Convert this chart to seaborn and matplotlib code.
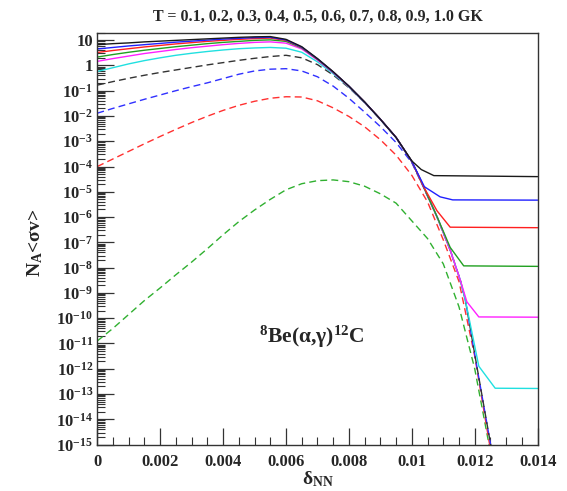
import numpy as np
import pandas as pd
import matplotlib
matplotlib.use('Agg')
import matplotlib.pyplot as plt
import seaborn as sns
from matplotlib.ticker import FixedLocator, MultipleLocator, FuncFormatter, NullFormatter

# temperatures (GK), line colours and line kind
temps = ['1.0', '0.9', '0.8', '0.7', '0.6', '0.5', '0.4', '0.3', '0.2', '0.1']
colors = ['#1a1a1a', '#2020ff', '#ff2020', '#20a020', '#ff20ff', '#20e0e0',
          '#333333', '#3030ff', '#ff3030', '#30b030']
dashed = [False, False, False, False, False, False, True, True, True, True]

# shared grid for the body of each curve (delta_NN)
x_body = [0.0, 0.0005, 0.001, 0.0015, 0.002, 0.0025, 0.003, 0.0035, 0.004, 0.0045,
          0.005, 0.0055, 0.006, 0.0065, 0.007, 0.0075, 0.008, 0.0085, 0.009, 0.0095]

# log10(N_A<sigma v>) on x_body
log_t10 = [0.82, 0.86, 0.89, 0.93, 0.96, 0.99, 1.02, 1.05, 1.08, 1.11, 1.13, 1.14, 1.03, 0.74, 0.27, -0.25, -0.82, -1.45, -2.13, -2.85]
log_t09 = [0.65, 0.71, 0.77, 0.82, 0.87, 0.92, 0.96, 1.00, 1.04, 1.07, 1.10, 1.11, 1.01, 0.72, 0.26, -0.26, -0.82, -1.45, -2.13, -2.85]
log_t08 = [0.51, 0.59, 0.66, 0.73, 0.79, 0.85, 0.90, 0.95, 0.99, 1.03, 1.06, 1.08, 0.99, 0.71, 0.25, -0.26, -0.83, -1.45, -2.13, -2.85]
log_t07 = [0.33, 0.43, 0.52, 0.60, 0.67, 0.74, 0.80, 0.86, 0.91, 0.95, 0.99, 1.01, 0.95, 0.69, 0.24, -0.27, -0.83, -1.45, -2.13, -2.85]
log_t06 = [0.16, 0.27, 0.37, 0.47, 0.55, 0.63, 0.70, 0.76, 0.82, 0.87, 0.91, 0.93, 0.88, 0.65, 0.21, -0.29, -0.84, -1.46, -2.13, -2.85]
log_t05 = [-0.24, -0.09, 0.06, 0.19, 0.30, 0.40, 0.48, 0.55, 0.61, 0.66, 0.69, 0.71, 0.68, 0.52, 0.14, -0.33, -0.86, -1.47, -2.14, -2.86]
log_t04 = [-0.78, -0.64, -0.51, -0.39, -0.28, -0.18, -0.08, 0.02, 0.11, 0.20, 0.28, 0.35, 0.40, 0.30, 0.03, -0.38, -0.88, -1.47, -2.13, -2.86]
log_t03 = [-1.89, -1.70, -1.52, -1.34, -1.17, -1.00, -0.84, -0.69, -0.52, -0.35, -0.22, -0.15, -0.13, -0.22, -0.45, -0.82, -1.30, -1.85, -2.42, -3.05]
log_t02 = [-4.00, -3.70, -3.40, -3.10, -2.81, -2.53, -2.26, -2.01, -1.78, -1.58, -1.42, -1.30, -1.24, -1.25, -1.40, -1.68, -2.02, -2.43, -2.94, -3.55]
log_t01 = [-10.9, -10.4, -9.85, -9.3, -8.8, -8.28, -7.78, -7.25, -6.7, -6.18, -5.72, -5.3, -4.92, -4.68, -4.56, -4.53, -4.6, -4.78, -5.08, -5.45]

# tails past x = 0.0095 (plateaus for the hotter curves)
tx_t10 = [0.0100, 0.0103, 0.0107, 0.0140]
ty_t10 = [-3.78, -4.12, -4.36, -4.40]
tx_t09 = [0.0100, 0.0104, 0.0109, 0.0113, 0.0140]
ty_t09 = [-3.80, -4.80, -5.20, -5.32, -5.33]
tx_t08 = [0.0100, 0.01037, 0.0108, 0.01122, 0.0140]
ty_t08 = [-3.80, -4.79, -5.75, -6.40, -6.42]
tx_t07 = [0.0100, 0.01037, 0.0108, 0.01122, 0.01165, 0.0140]
ty_t07 = [-3.80, -4.79, -5.98, -7.20, -7.93, -7.95]
tx_t06 = [0.0100, 0.01037, 0.0108, 0.01122, 0.01154, 0.01175, 0.01213, 0.0140]
ty_t06 = [-3.80, -4.79, -5.98, -7.30, -8.49, -9.35, -9.95, -9.96]
tx_t05 = [0.0100, 0.01037, 0.0108, 0.01122, 0.01154, 0.0117, 0.01213, 0.01265, 0.0140]
ty_t05 = [-3.80, -4.79, -5.98, -7.30, -8.49, -9.27, -11.9, -12.77, -12.78]
tx_t04 = [0.0100, 0.01037, 0.0108, 0.01122, 0.01154, 0.0117, 0.01207, 0.0125, 0.0128]
ty_t04 = [-3.80, -4.79, -5.98, -7.30, -8.49, -9.27, -11.92, -14.95, -17.0]
tx_t03 = [0.0100, 0.01037, 0.0108, 0.01122, 0.01154, 0.0117, 0.01207, 0.0125, 0.0128]
ty_t03 = [-3.85, -4.82, -6.00, -7.32, -8.50, -9.28, -11.93, -14.96, -17.0]
tx_t02 = [0.0100, 0.0105, 0.0110, 0.0115, 0.0120, 0.0125, 0.0128]
ty_t02 = [-4.35, -5.40, -6.90, -8.55, -11.5, -15.2, -17.5]
tx_t01 = [0.0100, 0.0105, 0.0110, 0.0115, 0.0120, 0.0125, 0.0128]
ty_t01 = [-6.15, -6.85, -7.85, -9.55, -12.0, -15.3, -17.5]

bodies = [log_t10, log_t09, log_t08, log_t07, log_t06, log_t05, log_t04, log_t03, log_t02, log_t01]
tails_x = [tx_t10, tx_t09, tx_t08, tx_t07, tx_t06, tx_t05, tx_t04, tx_t03, tx_t02, tx_t01]
tails_y = [ty_t10, ty_t09, ty_t08, ty_t07, ty_t06, ty_t05, ty_t04, ty_t03, ty_t02, ty_t01]

frames = []
for T, body, tx, ty in zip(temps, bodies, tails_x, tails_y):
    frames.append(pd.DataFrame({'delta': x_body + tx, 'logN': body + ty, 'T': T}))
df = pd.concat(frames, ignore_index=True)
df['N'] = 10.0 ** df['logN']

sns.set_style('white')
plt.rcParams['font.family'] = ['Liberation Serif', 'DejaVu Serif']
plt.rcParams['font.weight'] = 'bold'
plt.rcParams['mathtext.fontset'] = 'custom'
plt.rcParams['mathtext.rm'] = 'Liberation Serif:bold'
plt.rcParams['mathtext.bf'] = 'Liberation Serif:bold'
plt.rcParams['mathtext.it'] = 'Liberation Serif:bold:italic'

fig = plt.figure(figsize=(5.67, 4.91), dpi=100)
ax = fig.add_axes([0.1716, 0.0945, 0.7766, 0.8393])

# draw coolest first so the solid black ends on top
order = temps[::-1]
sns.lineplot(data=df, x='delta', y='N', hue='T', style='T',
             hue_order=order, style_order=order,
             palette=dict(zip(temps, colors)),
             dashes={T: ((5, 3) if d else '') for T, d in zip(temps, dashed)},
             estimator=None, sort=False, legend=False, linewidth=1.0, ax=ax)

ax.set_yscale('log')
ax.set_xlim(0, 0.014)
ax.set_ylim(1e-15, 20)

# y ticks like ROOT
decades = list(range(-15, 2))
ax.yaxis.set_major_locator(FixedLocator([10.0 ** n for n in decades]))
ylabels = []
for n in decades:
    if n == 0:
        ylabels.append('1')
    elif n == 1:
        ylabels.append('10')
    else:
        ylabels.append(r'$\mathbf{10^{%d}}$' % n)
ax.set_yticklabels(ylabels)
ax.yaxis.set_minor_locator(FixedLocator([m * 10.0 ** n for n in decades for m in range(2, 10)]))
ax.yaxis.set_minor_formatter(NullFormatter())

ax.xaxis.set_major_locator(MultipleLocator(0.002))
ax.xaxis.set_minor_locator(MultipleLocator(0.0005))
ax.xaxis.set_major_formatter(FuncFormatter(lambda v, p: '%g' % round(v, 4)))

ax.tick_params(axis='both', which='major', direction='in', length=12, width=0.9,
               labelsize=12, left=True, bottom=True, top=False, right=False, color='#333333')
ax.tick_params(axis='both', which='minor', direction='in', length=6, width=0.8,
               left=True, bottom=True, top=False, right=False, color='#333333')
ax.tick_params(axis='x', which='major', pad=7)
ax.tick_params(axis='y', which='major', pad=3)
for lab in ax.get_xticklabels() + ax.get_yticklabels():
    lab.set_fontweight('bold')

for sp in ax.spines.values():
    sp.set_color('#333333')
    sp.set_linewidth(1.0)

ax.set_xlabel('')
ax.set_ylabel('')

fig.text(0.56, 0.966, 'T = 0.1, 0.2, 0.3, 0.4, 0.5, 0.6, 0.7, 0.8, 0.9, 1.0 GK',
         ha='center', va='center', fontsize=11.5, fontweight='bold')
fig.text(0.062, 1 - 243 / 491, r'N$_{\mathbf{A}}$<σv>', rotation=90,
         ha='center', va='center', fontsize=14, fontweight='bold')
fig.text(0.56, 1 - 479 / 491, r'δ$_{\mathbf{NN}}$', ha='center', va='center',
         fontsize=14, fontweight='bold')
ax.text(0.488, 0.261, r'$^{\mathbf{8}}$Be(α,γ)$^{\mathbf{12}}$C', transform=ax.transAxes,
        ha='center', va='center', fontsize=15.5, fontweight='bold')

fig.savefig('out.png', dpi=100)
